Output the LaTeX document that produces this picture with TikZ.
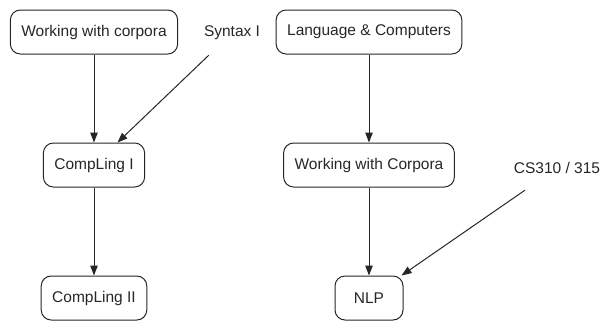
\documentclass[tikz,border=0pt]{standalone}
\usepackage{fontspec}
\setmainfont{Liberation Sans}
\usetikzlibrary{arrows.meta}
\begin{document}
\begin{tikzpicture}[x=1pt,y=-1pt,
	kurs/.style={draw=black!85, line width=1pt, rounded corners=10pt,
		minimum width=68pt, minimum height=44pt, inner xsep=11pt,
		font=\fontsize{15.5}{18}\selectfont, text=black!85},
	extern/.style={minimum height=44pt, inner xsep=4pt,
		font=\fontsize{15.5}{18}\selectfont, text=black!85},
	pfeil/.style={draw=black!85, line width=1pt, -{Triangle[length=10pt,width=7.5pt]}}]
		\useasboundingbox (0,0) rectangle (602,322);
		
		% zeichne Kurse links
		\node[kurs] (korpora) at (94,32) {Working with corpora};
		\node[extern] (syntax) at (232,33) {Syntax I};
		\node[kurs] (cl1) at (94,165) {CompLing I};
		\node[kurs] (cl2) at (94,298) {CompLing II};
		
		% zeichne Kurse rechts
		\node[kurs] (lc) at (369,32) {Language \& Computers};
		\node[kurs] (wwc) at (369,165) {Working with Corpora};
		\node[extern] (cs) at (557,168) {CS310 / 315};
		\node[kurs] (nlp) at (369,298) {NLP};
		
		% zeichne Abhaengigkeiten
		\draw[pfeil] (korpora) -- (cl1);
		\draw[pfeil] (syntax) -- (cl1);
		\draw[pfeil] (cl1) -- (cl2);
		\draw[pfeil] (lc) -- (wwc);
		\draw[pfeil] (wwc) -- (nlp);
		\draw[pfeil] (cs) -- (nlp);
	\end{tikzpicture}
\end{document}
